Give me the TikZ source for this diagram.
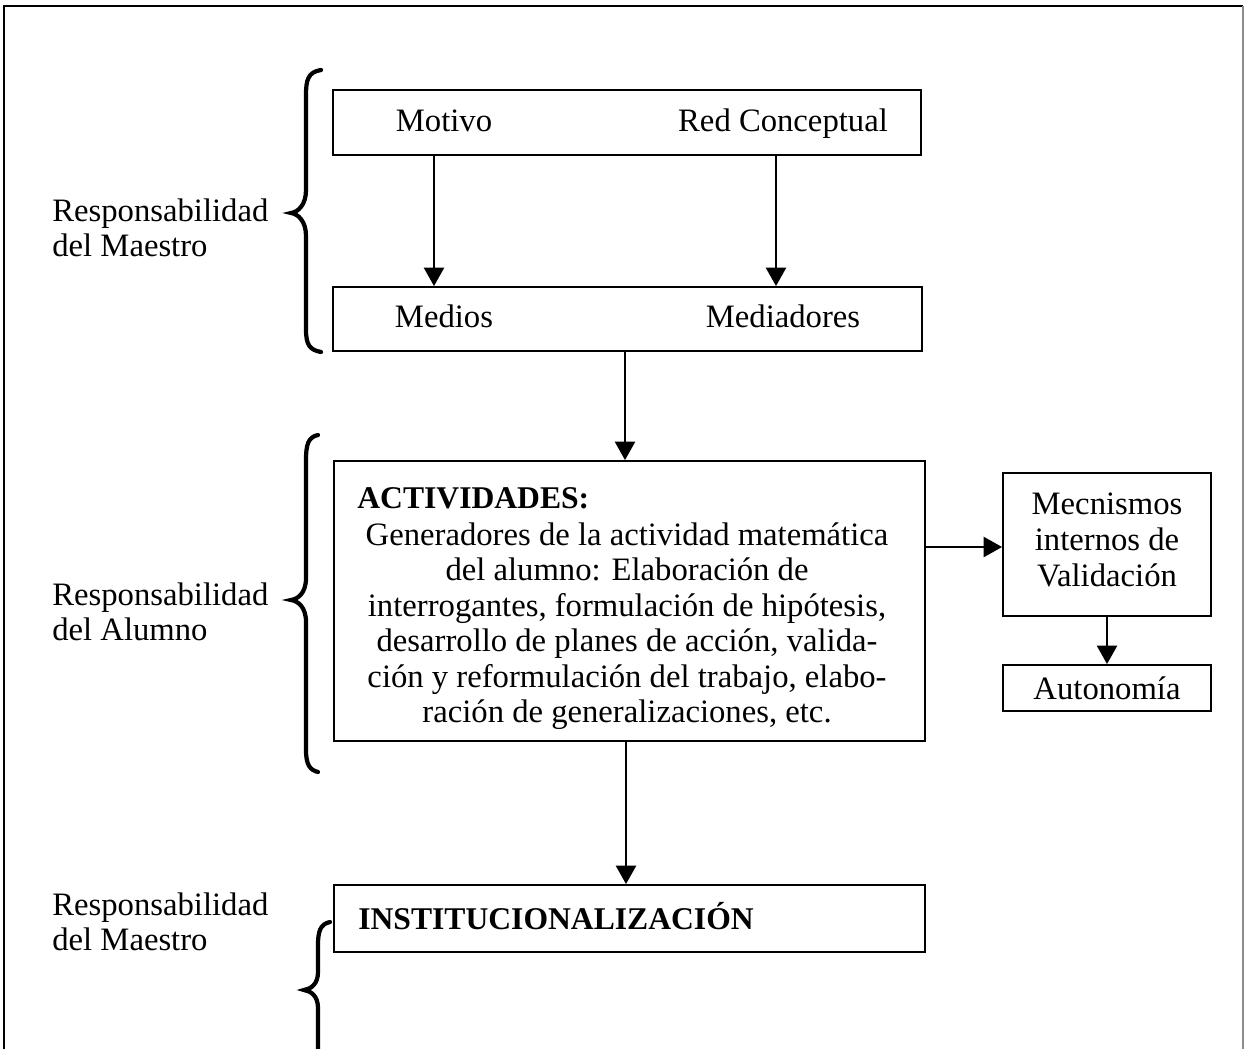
\documentclass[tikz,border=0pt]{standalone}
\usepackage{fontspec}
\setmainfont{Liberation Serif}
\usetikzlibrary{arrows.meta}
\begin{document}
\begin{tikzpicture}[x=0.02cm,y=-0.02cm,
  every node/.style={font=\fontsize{18.6}{20.2}\selectfont},
  box/.style={draw, line width=1.1pt, inner sep=0pt},
  arr/.style={line width=1.1pt, -{Triangle[length=10.5pt,width=11.5pt]}},
  brace/.style={line width=2.4pt, line cap=round},
  lbl/.style={anchor=west, align=left, inner sep=0pt},
  inl/.style={anchor=base, inner sep=0pt}]
\useasboundingbox (0,0) rectangle (1246,1048);
\fill[white] (0,0) rectangle (1246,1048);
\begin{scope}
\clip (0,0) rectangle (1246,1048);
% frame
\draw[line width=1.2pt] (4,1050) -- (4,6) -- (1243,6);
\draw[line width=1pt, black!45] (1243,6) -- (1243,1050);

% boxes
\node[box, minimum width=11.76cm, minimum height=1.3cm] (b1) at (627,122.5) {};
\node[inl] (mot) at (444,131) {Motivo};
\node[inl] (red) at (783,131) {Red Conceptual};
\node[box, minimum width=11.78cm, minimum height=1.28cm] (b2) at (627.5,319) {};
\node[inl] (med) at (444,327) {Medios};
\node[inl] (medr) at (783,327) {Mediadores};
\node[box, minimum width=11.82cm, minimum height=5.6cm] (act) at (629.5,601) {};
\node[anchor=west, inner sep=0pt, font=\fontsize{18}{20.2}\selectfont\bfseries] (acttit) at (357,498) {ACTIVIDADES:};
\node[align=center, inner sep=0pt, font=\fontsize{18.6}{20.2}\selectfont] (acttxt) at (627,626) {Generadores de la actividad matemática\\del alumno: Elaboración de\\interrogantes, formulación de hipótesis,\\desarrollo de planes de acción, valida-\\ción y reformulación del trabajo, elabo-\\ración de generalizaciones, etc.};
\node[box, minimum width=4.16cm, minimum height=2.86cm] (mec) at (1107,544.5) {};
\node[align=center, inner sep=0pt, font=\fontsize{18.6}{20.7}\selectfont] (mectxt) at (1107,540) {Mecnismos\\internos de\\Validación};
\node[box, minimum width=4.16cm, minimum height=0.92cm] (aut) at (1107,688) {Autonomía};
\node[box, minimum width=11.82cm, minimum height=1.34cm] (inst) at (629.5,918.5) {};
\node[anchor=west, inner sep=0pt, font=\fontsize{18}{20.2}\selectfont\bfseries] (insttxt) at (358,916) {INSTITUCIONALIZACIÓN};

% arrows
\coordinate (xa) at (434,0);
\coordinate (xb) at (776,0);
\coordinate (xc) at (625,0);
\coordinate (xd) at (626,0);
\draw[arr] (b1.south -| xa) -- (b2.north -| xa);
\draw[arr] (b1.south -| xb) -- (b2.north -| xb);
\draw[arr] (b2.south -| xc) -- (act.north -| xc);
\draw[arr] (act.east |- 0,547) coordinate (ae) -- (mec.west |- ae);
\draw[arr] (mec.south) -- (aut.north);
\draw[arr] (act.south -| xd) -- (inst.north -| xd);

% braces
\draw[brace] (321,70) .. controls (308,72) and (306,80) .. (306,95)
  -- (306,190) .. controls (306,205) and (298,212) .. (291,213)
  .. controls (298,214) and (306,221) .. (306,236)
  -- (306,330) .. controls (306,345) and (310,350) .. (321,352);
\draw[brace] (318,435) .. controls (308,437) and (306,445) .. (306,460)
  -- (306,578) .. controls (306,593) and (298,599) .. (291,600)
  .. controls (298,601) and (306,607) .. (306,622)
  -- (306,750) .. controls (306,765) and (310,770) .. (318,772);
\draw[brace] (330,922) .. controls (320,924) and (318,932) .. (318,945)
  -- (318,972) .. controls (318,984) and (311,989) .. (304,990)
  .. controls (311,991) and (318,996) .. (318,1008)
  -- (318,1060);
\end{scope}

% labels
\node[lbl] (l1) at (52,228) {Responsabilidad\\del Maestro};
\node[lbl] (l2) at (52,612) {Responsabilidad\\del Alumno};
\node[lbl] (l3) at (52,922) {Responsabilidad\\del Maestro};
\end{tikzpicture}
\end{document}
